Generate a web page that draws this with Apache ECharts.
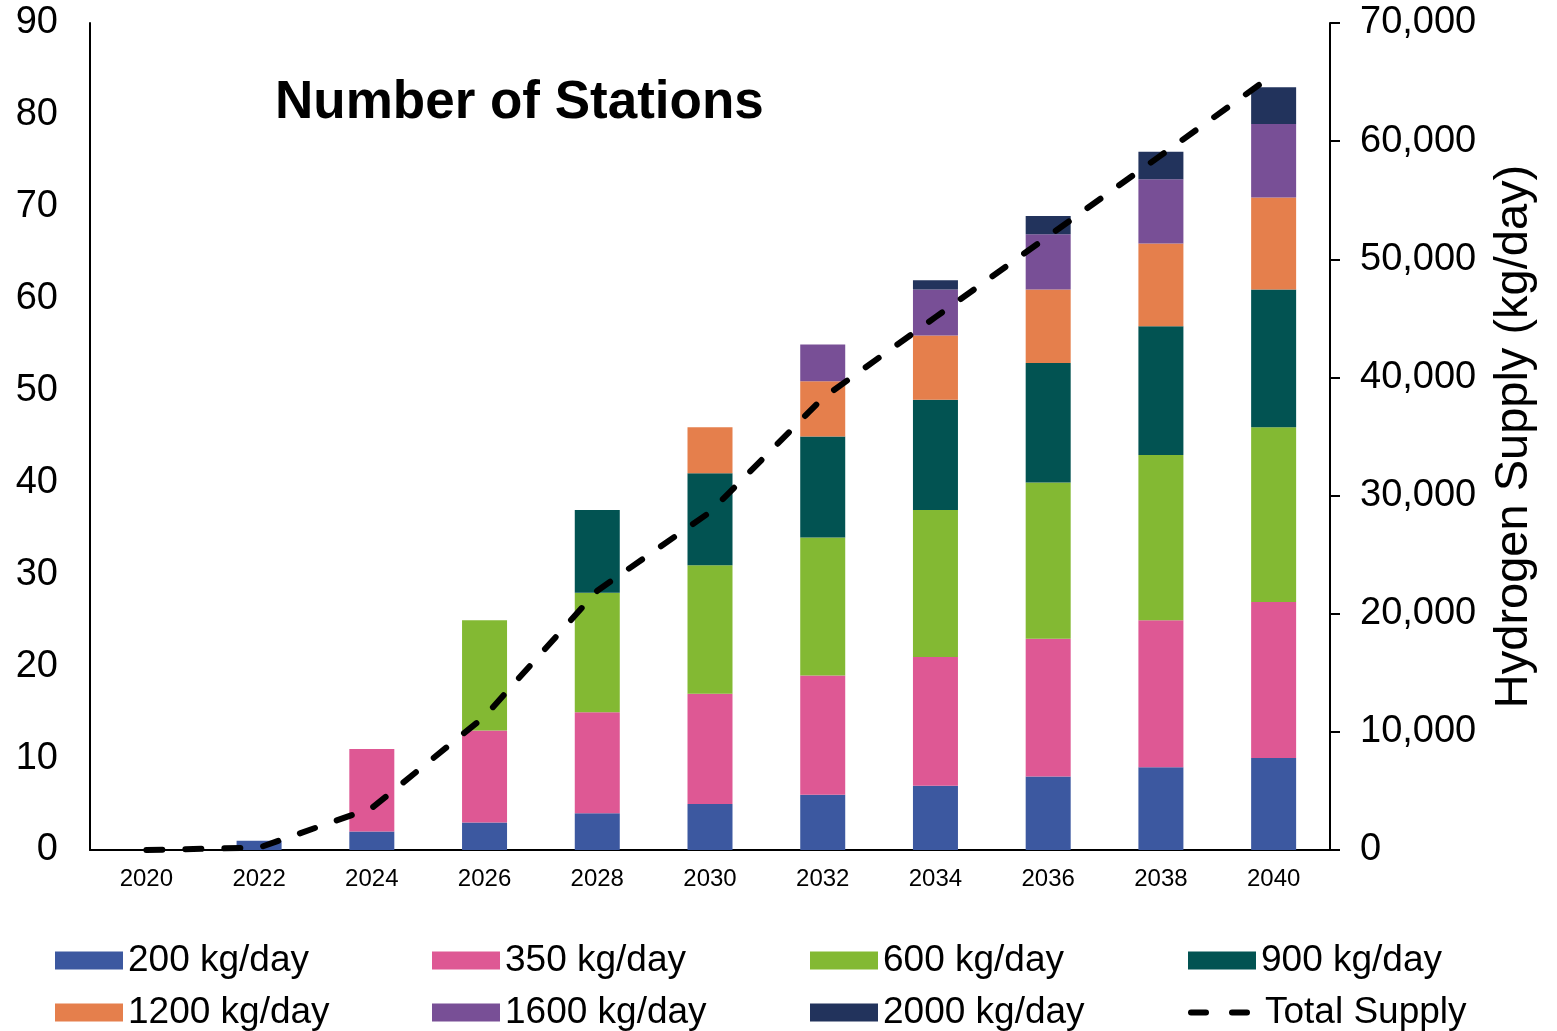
<!DOCTYPE html>
<html>
<head>
<meta charset="utf-8">
<title>Number of Stations</title>
<script src="https://cdn.jsdelivr.net/npm/echarts@6/dist/echarts.min.js"></script>
<style>
  html, body { margin: 0; padding: 0; background: #fff; }
  #chart { width: 1557px; height: 1031px; }
</style>
</head>
<body>
<div id="chart"></div>
<script>
// data
var years = ['2020', '2022', '2024', '2026', '2028', '2030', '2032', '2034', '2036', '2038', '2040'];
var st200 = [0, 1, 2, 3, 4, 5, 6, 7, 8, 9, 10];
var st350 = [0, 0, 9, 10, 11, 12, 13, 14, 15, 16, 17];
var st600 = [0, 0, 0, 12, 13, 14, 15, 16, 17, 18, 19];
var st900 = [0, 0, 0, 0, 9, 10, 11, 12, 13, 14, 15];
var st1200 = [0, 0, 0, 0, 0, 5, 6, 7, 8, 9, 10];
var st1600 = [0, 0, 0, 0, 0, 0, 4, 5, 6, 7, 8];
var st2000 = [0, 0, 0, 0, 0, 0, 0, 1, 2, 3, 4];
var totalSupply = [0, 200, 3550, 11300, 21950, 28600, 38250, 45100, 51950, 58800, 65650];

var myChart = echarts.init(document.getElementById('chart'));
var font = 'Liberation Sans, Arial, sans-serif';

function barSeries(name, data, color) {
  return {
    name: name,
    type: 'bar',
    stack: 'st',
    barWidth: 45,
    data: data,
    itemStyle: { color: color },
    emphasis: { disabled: true }
  };
}

// dashed icon for the supply line
var dashIcon = 'path://M3,0h15a3,3 0 0 1 0,6h-15a3,3 0 0 1 0,-6zM44,0h15a3,3 0 0 1 0,6h-15a3,3 0 0 1 0,-6z';

// one legend per item so the columns line up like the original
var legendPos = [
  ['200 kg/day', 55, 942], ['350 kg/day', 432, 942], ['600 kg/day', 810, 942], ['900 kg/day', 1188, 942],
  ['1200 kg/day', 55, 994], ['1600 kg/day', 432, 994], ['2000 kg/day', 810, 994], ['Total Supply', 1188, 994]
];
var legends = legendPos.map(function (p) {
  var isLine = p[0] === 'Total Supply';
  return {
    data: [isLine ? { name: p[0], icon: dashIcon, itemStyle: { color: '#000', borderWidth: 0 } } : p[0]],
    left: p[1],
    top: p[2],
    padding: 0,
    icon: 'rect',
    itemWidth: isLine ? 62 : 68,
    itemHeight: isLine ? 6 : 18,
    itemGap: 0,
    selectedMode: false,
    textStyle: { fontSize: 37, color: '#000', fontFamily: font, padding: [0, 0, 0, isLine ? 10 : 0] }
  };
});

myChart.setOption({
  animation: false,
  textStyle: { fontFamily: font },
  title: {
    text: 'Number of Stations',
    left: 275,
    top: 77,
    padding: 0,
    textStyle: { fontSize: 53, fontWeight: 'bold', color: '#000', fontFamily: font }
  },
  legend: legends,
  grid: { left: 90, right: 227, top: 23, bottom: 181, containLabel: false },
  xAxis: {
    type: 'category',
    data: years,
    axisLine: { lineStyle: { color: '#000', width: 2 } },
    axisTick: { show: false },
    axisLabel: { fontSize: 24, color: '#000', margin: 17 }
  },
  yAxis: [{
    type: 'value',
    min: 0,
    max: 90,
    interval: 10,
    axisLine: { show: true, lineStyle: { color: '#000', width: 2 } },
    axisTick: { show: false },
    splitLine: { show: false },
    axisLabel: { fontSize: 38, color: '#000', margin: 32, padding: [4, 0, 0, 0] }
  }, {
    type: 'value',
    min: 0,
    max: 70000,
    interval: 10000,
    position: 'right',
    name: 'Hydrogen Supply (kg/day)',
    nameLocation: 'middle',
    nameRotate: 90,
    nameGap: 161,
    nameTextStyle: { fontSize: 47, color: '#000' },
    axisLine: { show: true, lineStyle: { color: '#000', width: 2 } },
    axisTick: { show: true, length: 10, lineStyle: { color: '#000', width: 2 } },
    splitLine: { show: false },
    axisLabel: {
      fontSize: 38,
      color: '#000',
      margin: 30,
      padding: [4, 0, 0, 0],
      formatter: function (v) { return v.toLocaleString('en-US'); }
    }
  }],
  series: [
    barSeries('200 kg/day', st200, '#3C58A0'),
    barSeries('350 kg/day', st350, '#DE5894'),
    barSeries('600 kg/day', st600, '#83B933'),
    barSeries('900 kg/day', st900, '#025352'),
    barSeries('1200 kg/day', st1200, '#E57F4C'),
    barSeries('1600 kg/day', st1600, '#784F96'),
    barSeries('2000 kg/day', st2000, '#22335C'),
    {
      name: 'Total Supply',
      type: 'line',
      yAxisIndex: 1,
      data: totalSupply,
      symbol: 'none',
      z: 5,
      lineStyle: { color: '#000', width: 6, type: [16, 23], cap: 'round' },
      itemStyle: { color: '#000' },
      emphasis: { disabled: true }
    }
  ]
});

window.addEventListener('resize', function () {
  myChart.resize();
});
</script>
</body>
</html>
